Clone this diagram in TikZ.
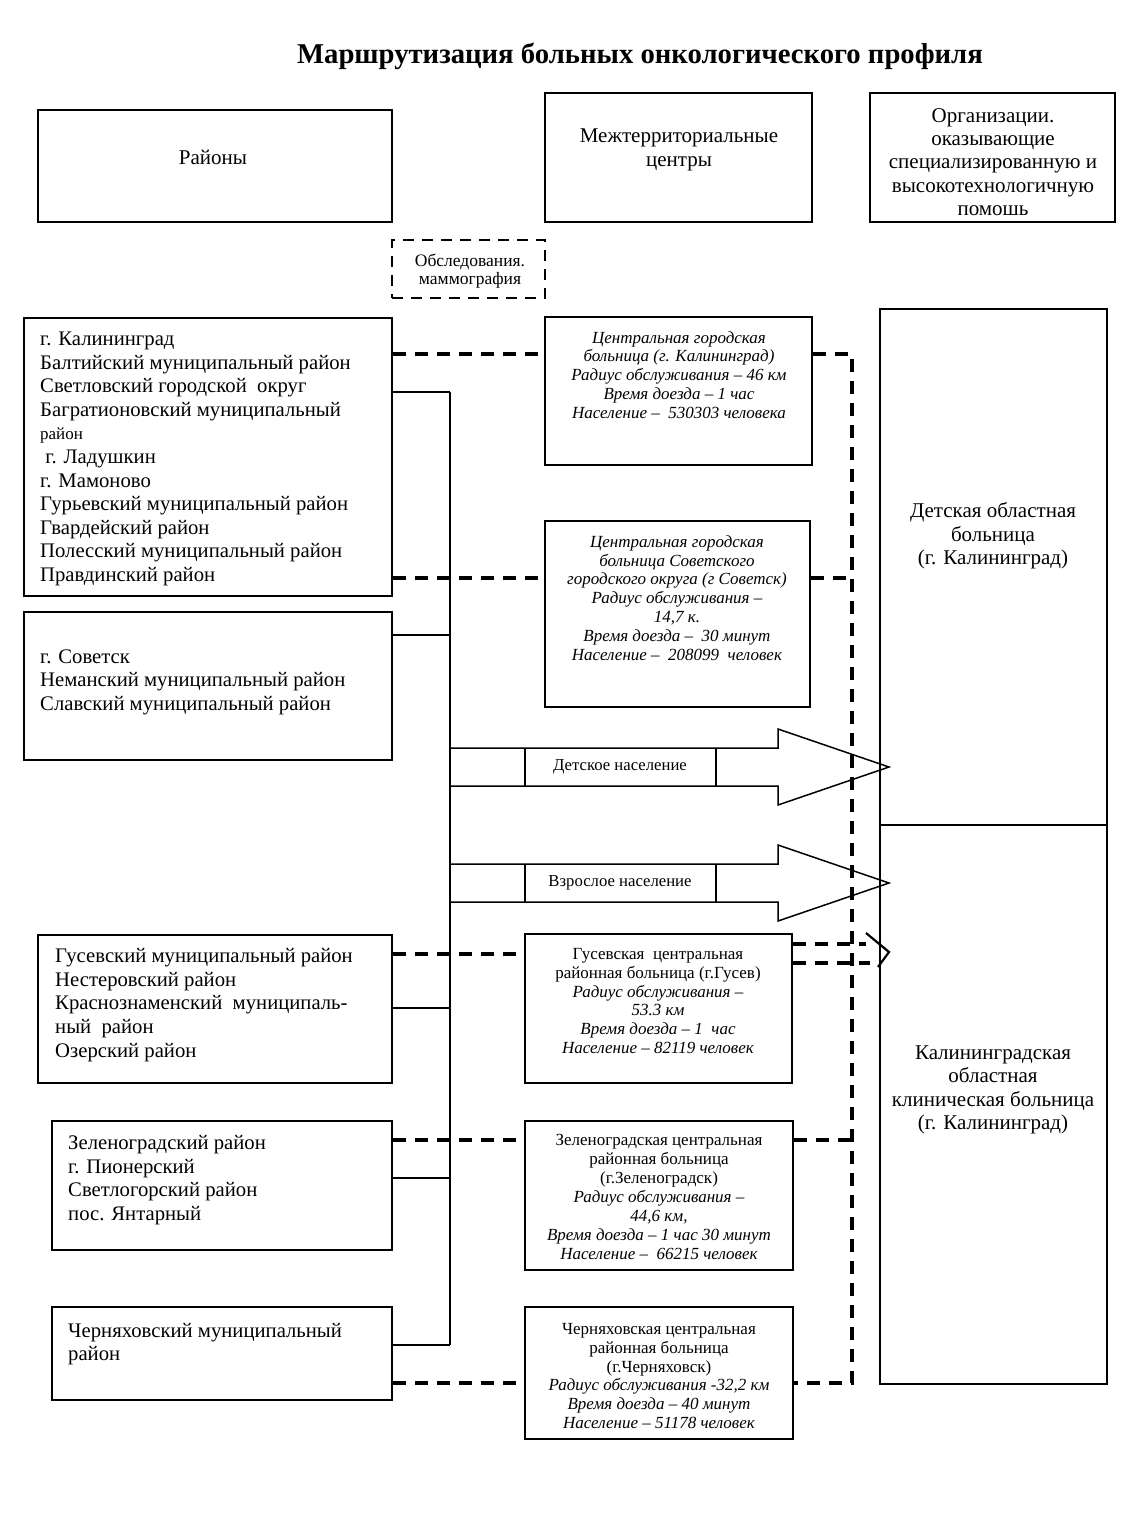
\documentclass[tikz,border=0pt]{standalone}
\usepackage{fontspec}
\setmainfont{Liberation Serif}
\usetikzlibrary{fit}
\begin{document}
\begin{tikzpicture}[x=1pt,y=-1pt,
  box/.style={draw, line width=1.6pt, inner sep=0pt},
  dbox/.style={draw, line width=2.8pt, inner sep=0pt, dash pattern=on 11pt off 8pt},
  dline/.style={line width=3.1pt, dash pattern=on 13pt off 9pt},
  sline/.style={line width=1.6pt},
  ltext/.style={anchor=west, align=left, inner sep=0pt, font=\fontsize{20.7}{23.6}\selectfont},
  htext/.style={align=center, inner sep=0pt, font=\fontsize{21}{23.4}\selectfont},
  mtext/.style={align=center, inner sep=0pt, font=\fontsize{17}{18.9}\selectfont},
  atext/.style={inner sep=0pt, font=\fontsize{16.7}{19}\selectfont},
  bigarrow/.style={line width=1.5pt, line join=miter},
]
\useasboundingbox (0,0) rectangle (1135,1519);
\fill[white] (0,0) rectangle (1135,1519);

% title
\node[inner sep=0pt, font=\fontsize{28.7}{32}\selectfont\bfseries] (title) at (640,56) {Маршрутизация больных онкологического профиля};

% header boxes
\node[box, fit={(38,110) (392,222)}] (H1) {};
\node[htext] (H1t) at (213,157) {Районы};
\node[box, fit={(545,93) (812,222)}] (H2) {};
\node[htext] (H2t) at (679,150) {Межтерриториальные\\центры};
\node[box, fit={(870,93) (1115,222)}] (H3) {};
\node[htext] (H3t) at (993,162) {Организации.\\оказывающие\\специализированную и\\высокотехнологичную\\помошь};

% dashed box
\node[dbox, fit={(392,240) (545,298)}] (D) {};
\node[align=center, inner sep=0pt, font=\fontsize{17.5}{18.5}\selectfont] (Dt) at (470,271) {Обследования.\\маммография};

% left boxes
\node[box, fit={(24,318) (392,596)}] (L1) {};
\node[ltext] (L1t) at (40,459) {г. Калининград\\Балтийский муниципальный район\\Светловский городской\ \ округ\\Багратионовский муниципальный\\{\fontsize{17}{20}\selectfont район}\\\ г. Ладушкин\\г. Мамоново\\Гурьевский муниципальный район\\Гвардейский район\\Полесский муниципальный район\\Правдинский район};
\node[box, fit={(24,612) (392,760)}] (L2) {};
\node[ltext] (L2t) at (40,682) {г. Советск\\Неманский муниципальный район\\Славский муниципальный район};
\node[box, fit={(38,935) (392,1083)}] (L3) {};
\node[ltext] (L3t) at (55,1005) {Гусевский муниципальный район\\Нестеровский район\\Краснознаменский\ \ муниципаль-\\ный\ \ район\\Озерский район};
\node[box, fit={(52,1121) (392,1250)}] (L4) {};
\node[ltext] (L4t) at (68,1180) {Зеленоградский район\\г. Пионерский\\Светлогорский район\\пос. Янтарный};
\node[box, fit={(52,1307) (392,1400)}] (L5) {};
\node[ltext] (L5t) at (68,1344) {Черняховский муниципальный\\район};

% middle boxes
\node[box, fit={(545,317) (812,465)}] (M1) {};
\node[mtext] (M1t) at (679,375) {\textit{Центральная городская}\\\textit{больница (г. Калининград)}\\\textit{Радиус обслуживания – 46 км}\\\textit{Время доезда – 1 час}\\\textit{Население –\ \ 530303 человека}};
\node[box, fit={(545,521) (810,707)}] (M2) {};
\node[mtext] (M2t) at (677,598) {\textit{Центральная городская}\\\textit{больница Советского}\\\textit{городского округа (г Советск)}\\\textit{Радиус обслуживания –}\\\textit{14,7 к.}\\\textit{Время доезда –\ \ 30 минут}\\\textit{Население –\ \ 208099\ \ человек}};
\node[box, fit={(525,934) (792,1083)}] (M3) {};
\node[mtext] (M3t) at (658,1001) {Гусевская\ \ центральная\\районная больница (г.Гусев)\\\textit{Радиус обслуживания –}\\\textit{53.3 км}\\\textit{Время доезда – 1\ \ час}\\\textit{Население – 82119 человек}};
\node[box, fit={(525,1121) (793,1270)}] (M4) {};
\node[mtext] (M4t) at (659,1197) {Зеленоградская центральная\\районная больница\\(г.Зеленоградск)\\\textit{Радиус обслуживания –}\\\textit{44,6 км,}\\\textit{Время доезда – 1 час 30 минут}\\\textit{Население –\ \ 66215 человек}};
\node[box, fit={(525,1307) (793,1439)}] (M5) {};
\node[mtext] (M5t) at (659,1376) {Черняховская центральная\\районная больница\\(г.Черняховск)\\\textit{Радиус обслуживания -32,2 км}\\\textit{Время доезда – 40 минут}\\\textit{Население – 51178 человек}};

% right boxes
\node[box, fit={(880,309) (1107,825)}] (R1) {};
\node[htext] (R1t) at (993,536) {Детская областная\\больница\\(г. Калининград)};
\node[box, fit={(880,825) (1107,1384)}] (R2) {};
\node[htext] (R2t) at (993,1090) {Калининградская\\областная\\клиническая больница\\(г. Калининград)};

% solid bus
\coordinate (s1) at (450,392);
\coordinate (s2) at (450,635);
\coordinate (s3) at (450,1008);
\coordinate (s4) at (450,1178);
\coordinate (s5) at (450,1345);
\draw[sline] (s1) -- (s5);
\draw[sline] (L1.east |- s1) -- (s1);
\draw[sline] (L2.east |- s2) -- (s2);
\draw[sline] (L3.east |- s3) -- (s3);
\draw[sline] (L4.east |- s4) -- (s4);
\draw[sline] (L5.east |- s5) -- (s5);

% big arrows
\coordinate (t1) at (889,767);
\coordinate (t2) at (889,883);
\draw[bigarrow] (450,748) -- (778,748) -- (778,729) -- (t1) -- (778,805) -- (778,786) -- (450,786);
\draw[sline] (525,748) -- (525,786) (716,748) -- (716,786);
\node[atext] (A1t) at (620,767) {Детское население};
\draw[bigarrow] (450,864) -- (778,864) -- (778,845) -- (t2) -- (778,921) -- (778,902) -- (450,902);
\draw[sline] (525,864) -- (525,902) (716,864) -- (716,902);
\node[atext] (A2t) at (620,883) {Взрослое население};

% dashed connectors
\coordinate (b1) at (852,354);
\coordinate (b2) at (852,578);
\coordinate (b3) at (852,954);
\coordinate (b4) at (852,1140);
\coordinate (b5) at (852,1383);
\draw[dline] (L1.east |- b1) -- (M1.west |- b1);
\draw[dline] (L1.east |- b2) -- (M2.west |- b2);
\draw[dline] (L3.east |- b3) -- (M3.west |- b3);
\draw[dline] (L4.east |- b4) -- (M4.west |- b4);
\draw[dline] (L5.east |- b5) -- (M5.west |- b5);
\draw[dline] (M1.east |- b1) -- (b1) -- (b5) -- (M5.east |- b5);
\draw[dline] (M2.east |- b2) -- (b2);
\draw[dline] (M4.east |- b4) -- (b4);
\coordinate (c1) at (866,944);
\coordinate (c2) at (870,963);
\draw[dline] (M3.east |- c1) -- (c1);
\draw[dline] (M3.east |- c2) -- (c2);
\coordinate (ct) at (889,952);
\draw[line width=2.2pt] (866,933) -- (ct) -- (878,967);
\end{tikzpicture}
\end{document}
